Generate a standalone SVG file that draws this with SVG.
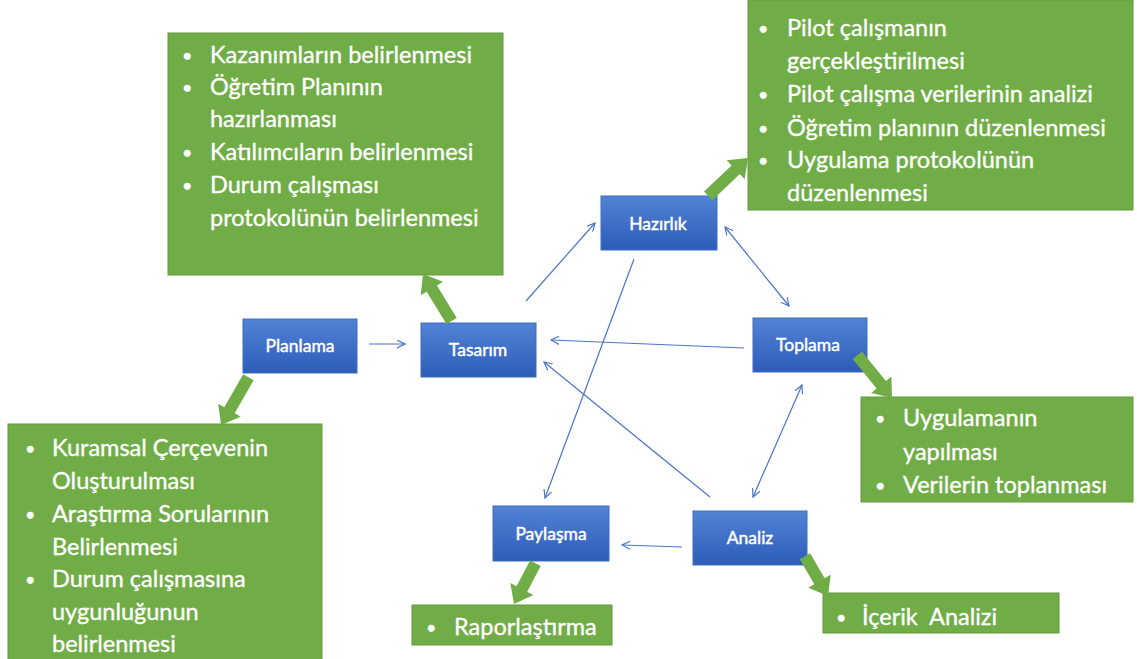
<svg xmlns="http://www.w3.org/2000/svg" width="1137" height="659" viewBox="0 0 1137 659">
  <defs>
    <linearGradient id="blueFill" x1="0" y1="0" x2="0" y2="1">
      <stop offset="0" stop-color="#5283d4"/>
      <stop offset="1" stop-color="#2d5cb9"/>
    </linearGradient>
    <marker id="tip" viewBox="0 0 10 10" refX="9" refY="5" markerWidth="9" markerHeight="9" markerUnits="userSpaceOnUse" orient="auto-start-reverse">
      <path d="M0,0.5 L9,5 L0,9.5" fill="none" stroke="#4a74c6" stroke-width="1.3"/>
    </marker>
    <!-- block arrows, tip at origin, pointing along +x -->
    <path id="blockLong" d="M0,0 L-17,-13 L-17,-6 L-55,-6 L-55,6 L-17,6 L-17,13 Z"/>
    <path id="blockShort" d="M0,0 L-17,-13 L-17,-6 L-46,-6 L-46,6 L-17,6 L-17,13 Z"/>
  </defs>
  <style>
    .green { fill: #70ad47; stroke: #63993e; stroke-width: 1; }
    .blue { fill: url(#blueFill); stroke: #3f6cc0; stroke-width: 1; }
    .item { font-family: Lato, "Open Sans", "Noto Sans", sans-serif; font-size: 23.5px; fill: #ffffff; stroke: #ffffff; stroke-width: 0.35; }
    .item .dot { font-size: 18px; }
    .label { font-family: Lato, "Open Sans", "Noto Sans", sans-serif; font-size: 17.5px; fill: #ffffff; stroke: #ffffff; stroke-width: 0.45; text-anchor: middle; }
    .link { stroke: #4a74c6; stroke-width: 1.2; fill: none; marker-end: url(#tip); }
    .link2 { stroke: #4a74c6; stroke-width: 1.2; fill: none; marker-start: url(#tip); marker-end: url(#tip); }
    .block { fill: #70ad47; }
  </style>

  <rect width="1137" height="659" fill="#ffffff"/>

  <!-- thin connectors between the phases -->
  <g id="connectors">
    <line class="link" x1="369" y1="344" x2="405" y2="344"/>
    <line class="link" x1="526" y1="301" x2="595" y2="223"/>
    <line class="link2" x1="725" y1="227" x2="789" y2="306"/>
    <line class="link" x1="744" y1="348" x2="551" y2="340"/>
    <line class="link2" x1="802" y1="385" x2="753" y2="497"/>
    <line class="link" x1="710" y1="497" x2="544" y2="362"/>
    <line class="link" x1="634" y1="259" x2="545" y2="498"/>
    <line class="link" x1="682" y1="547" x2="622" y2="545"/>
  </g>

  <!-- detail boxes -->
  <g id="box-tasarim-details">
    <rect class="green" x="168" y="33" width="335" height="242"/>
    <g class="item">
      <text class="dot" x="182" y="62">•</text><text x="210" y="63">Kazanımların belirlenmesi</text>
      <text class="dot" x="182" y="94">•</text><text x="210" y="95">Öğretim Planının</text>
      <text x="210" y="127">hazırlanması</text>
      <text class="dot" x="182" y="159">•</text><text x="210" y="160">Katılımcıların belirlenmesi</text>
      <text class="dot" x="182" y="192">•</text><text x="210" y="193">Durum çalışması</text>
      <text x="210" y="226">protokolünün belirlenmesi</text>
    </g>
  </g>

  <g id="box-hazirlik-details">
    <rect class="green" x="748" y="0" width="385" height="210"/>
    <g class="item">
      <text class="dot" x="758" y="35">•</text><text x="787" y="36">Pilot çalışmanın</text>
      <text x="787" y="69">gerçekleştirilmesi</text>
      <text class="dot" x="758" y="101">•</text><text x="787" y="102">Pilot çalışma verilerinin analizi</text>
      <text class="dot" x="758" y="135">•</text><text x="787" y="136">Öğretim planının düzenlenmesi</text>
      <text class="dot" x="758" y="167">•</text><text x="787" y="168">Uygulama protokolünün</text>
      <text x="787" y="201">düzenlenmesi</text>
    </g>
  </g>

  <g id="box-planlama-details">
    <rect class="green" x="8" y="424" width="314" height="240"/>
    <g class="item">
      <text class="dot" x="25" y="455">•</text><text x="52" y="456">Kuramsal Çerçevenin</text>
      <text x="52" y="489">Oluşturulması</text>
      <text class="dot" x="25" y="521">•</text><text x="52" y="522">Araştırma Sorularının</text>
      <text x="52" y="555">Belirlenmesi</text>
      <text class="dot" x="25" y="586">•</text><text x="52" y="587">Durum çalışmasına</text>
      <text x="52" y="620">uygunluğunun</text>
      <text x="52" y="652">belirlenmesi</text>
    </g>
  </g>

  <g id="box-toplama-details">
    <rect class="green" x="861" y="397" width="272" height="105"/>
    <g class="item">
      <text class="dot" x="875" y="425">•</text><text x="903" y="426">Uygulamanın</text>
      <text x="903" y="460">yapılması</text>
      <text class="dot" x="875" y="492">•</text><text x="903" y="493">Verilerin toplanması</text>
    </g>
  </g>

  <g id="box-paylasma-details">
    <rect class="green" x="412" y="605" width="200" height="40"/>
    <g class="item">
      <text class="dot" x="426" y="634">•</text><text x="454" y="635">Raporlaştırma</text>
    </g>
  </g>

  <g id="box-analiz-details">
    <rect class="green" x="823" y="593" width="236" height="40"/>
    <g class="item">
      <text class="dot" x="836" y="624">•</text><text x="862" y="625">İçerik&#160; Analizi</text>
    </g>
  </g>

  <!-- phase nodes -->
  <g id="node-planlama">
    <rect class="blue" x="243" y="319" width="114" height="54"/>
    <text class="label" x="300" y="352">Planlama</text>
  </g>
  <g id="node-tasarim">
    <rect class="blue" x="421" y="323" width="115" height="54"/>
    <text class="label" x="478" y="356">Tasarım</text>
  </g>
  <g id="node-hazirlik">
    <rect class="blue" x="601" y="196" width="116" height="54"/>
    <text class="label" x="658" y="230">Hazırlık</text>
  </g>
  <g id="node-toplama">
    <rect class="blue" x="753" y="318" width="114" height="54"/>
    <text class="label" x="808" y="351">Toplama</text>
  </g>
  <g id="node-analiz">
    <rect class="blue" x="693" y="511" width="114" height="54"/>
    <text class="label" x="750" y="544">Analiz</text>
  </g>
  <g id="node-paylasma">
    <rect class="blue" x="493" y="506" width="116" height="55"/>
    <text class="label" x="551" y="540">Paylaşma</text>
  </g>

  <!-- block arrows from each phase to its detail box -->
  <g id="detail-arrows" class="block">
    <use href="#blockLong" transform="translate(423,274) rotate(-121.3)"/>
    <use href="#blockLong" transform="translate(221,425) rotate(119.9)"/>
    <use href="#blockLong" transform="translate(748,158) rotate(-43.6)"/>
    <use href="#blockLong" transform="translate(892,398) rotate(50.9)"/>
    <use href="#blockShort" transform="translate(514,604) rotate(117.7)"/>
    <use href="#blockShort" transform="translate(828,596) rotate(59.9)"/>
  </g>
</svg>
